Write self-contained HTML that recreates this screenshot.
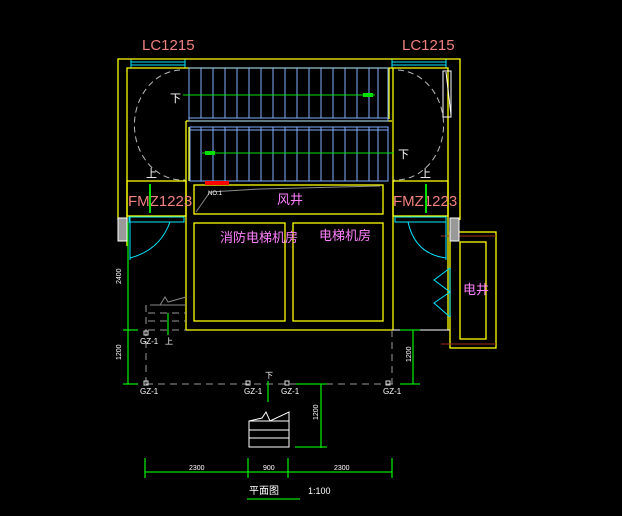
<!DOCTYPE html>
<html><head><meta charset="utf-8"><style>body{margin:0;background:#000}svg{display:block}</style></head><body>
<svg width="622" height="516" viewBox="0 0 622 516" xmlns="http://www.w3.org/2000/svg" font-family="Liberation Sans, Noto Sans CJK SC, sans-serif">
<rect width="622" height="516" fill="#000"/>
<text x="142" y="50" fill="#f08080" font-size="15">LC1215</text>
<text x="402" y="50" fill="#f08080" font-size="15">LC1215</text>
<g stroke="#00e5ff" stroke-width="1" fill="none">
<rect x="131" y="59" width="54" height="9"/><line x1="131" y1="62" x2="185" y2="62"/><line x1="131" y1="65" x2="185" y2="65"/>
<rect x="392" y="59" width="54" height="9"/><line x1="392" y1="62" x2="446" y2="62"/><line x1="392" y1="65" x2="446" y2="65"/>
</g>
<g stroke="#ffff00" stroke-width="1.3" fill="none">
<polyline points="118,220 118,59 460,59 460,220"/>
<polyline points="127,246 127,68 448,68 448,232"/>
<line x1="186" y1="121" x2="186" y2="330"/>
<line x1="186" y1="121" x2="392" y2="121"/>
<line x1="393" y1="68" x2="393" y2="330"/>
<line x1="389" y1="68" x2="389" y2="119"/>
<line x1="186" y1="330" x2="393" y2="330"/>
<line x1="189" y1="127" x2="189" y2="181"/>
<rect x="194" y="185" width="189" height="29"/>
<rect x="194" y="223" width="91" height="98"/>
<rect x="293" y="223" width="90" height="98"/>
<rect x="127" y="181" width="59" height="35"/>
<rect x="393" y="181" width="55" height="35"/>
<line x1="448" y1="232" x2="448" y2="330"/>
<rect x="450" y="232" width="46" height="116"/>
<rect x="460" y="242" width="26" height="97"/>
</g>
<line x1="441" y1="236" x2="496" y2="236" stroke="#a03010"/>
<line x1="441" y1="344" x2="496" y2="344" stroke="#a03010"/>
<line x1="393" y1="330" x2="450" y2="330" stroke="#fff"/>
<g stroke="#80b0ff" stroke-width="1" fill="none">
<rect x="189" y="68" width="199" height="53"/>
<line x1="189" y1="118" x2="388" y2="118"/>
<rect x="190" y="127" width="198" height="54"/>
<line x1="190" y1="130" x2="388" y2="130"/>
<path d="M201 68V118M213 68V118M225 68V118M237 68V118M249 68V118M261 68V118M273 68V118M285 68V118M297 68V118M309 68V118M321 68V118M333 68V118M345 68V118M357 68V118M369 68V118M378 68V118"/>
<path d="M201 127V181M213 127V181M225 127V181M237 127V181M249 127V181M261 127V181M273 127V181M285 127V181M297 127V181M309 127V181M321 127V181M333 127V181M345 127V181M357 127V181M369 127V181M378 127V181"/>
</g>
<g stroke="#00e000" stroke-width="1">
<line x1="183" y1="95" x2="375" y2="95"/><line x1="202" y1="153" x2="394" y2="153"/>
</g>
<rect x="363" y="93" width="10" height="4" fill="#00e000"/><rect x="205" y="151" width="10" height="4" fill="#00e000"/>
<g stroke="#bbb" stroke-dasharray="6,4" fill="none">
<path d="M180 70 A48 55 0 0 0 185 180"/>
<path d="M398 70 A48 55 0 0 1 393 180"/>
</g>
<g fill="#fff" font-size="11">
<text x="170" y="102">下</text><text x="398" y="158">下</text>
<text x="146" y="177">上</text><text x="420" y="177">上</text>
</g>
<rect x="443" y="71" width="8" height="46" fill="none" stroke="#fff"/>
<path d="M446 72 L451 115" stroke="#fff"/>
<rect x="205" y="181" width="24" height="4" fill="#f00"/>
<path d="M196 212 L210 192 L260 189 L380 186" stroke="#888" fill="none"/>
<text x="208" y="195" fill="#fff" font-size="6">NO.1</text>
<g fill="#ff80ff" font-size="13">
<text x="277" y="204">风井</text>
<text x="220" y="242">消防电梯机房</text>
<text x="319" y="240">电梯机房</text>
<text x="463" y="294">电井</text>
</g>
<g fill="#f08080" font-size="15">
<text x="128" y="206">FMZ1223</text><text x="393" y="206">FMZ1223</text>
</g>
<line x1="150" y1="184" x2="150" y2="213" stroke="#00e000" stroke-width="2"/>
<line x1="426" y1="184" x2="426" y2="213" stroke="#00e000" stroke-width="2"/>
<g stroke="#00e5ff" fill="none">
<rect x="129" y="217" width="55" height="5"/><rect x="395" y="217" width="51" height="5"/>
<line x1="130" y1="217" x2="130" y2="260"/><line x1="446" y1="217" x2="446" y2="260"/>
<path d="M130 258 Q160 250 170 222"/><path d="M446 258 Q415 254 408 222"/>
<line x1="450" y1="268" x2="450" y2="317"/>
<path d="M450 268 L434 280 L450 292 L434 303 L450 317"/>
</g>
<rect x="118" y="218" width="9" height="23" fill="#999" stroke="#fff"/>
<rect x="450" y="218" width="9" height="23" fill="#999" stroke="#fff"/>
<g stroke="#999" stroke-dasharray="7,5" fill="none">
<line x1="146" y1="305" x2="146" y2="384"/>
<line x1="392" y1="330" x2="392" y2="384"/>
<line x1="146" y1="384" x2="393" y2="384"/>
<path d="M148 313H186M148 321H186M148 330H186"/>
</g>
<path d="M150 305 L186 305 M160 305 L165 297 L168 302 L186 297" stroke="#888" fill="none"/>
<g fill="none" stroke="#ddd"><rect x="144" y="331" width="4" height="4"/><rect x="144" y="381" width="4" height="4"/><rect x="246" y="381" width="4" height="4"/><rect x="285" y="381" width="4" height="4"/><rect x="386" y="381" width="4" height="4"/></g>
<g fill="#fff" font-size="8">
<text x="140" y="344">GZ-1</text><text x="165" y="344">上</text>
<text x="140" y="394">GZ-1</text><text x="244" y="394">GZ-1</text><text x="281" y="394">GZ-1</text><text x="383" y="394">GZ-1</text>
<text x="265" y="378">下</text>
</g>
<g stroke="#00e000" stroke-width="1.3" fill="none">
<line x1="128" y1="222" x2="128" y2="384"/>
<line x1="123" y1="330" x2="138" y2="330"/><line x1="123" y1="384" x2="138" y2="384"/>
<line x1="413" y1="330" x2="413" y2="384"/>
<line x1="400" y1="330" x2="420" y2="330"/><line x1="400" y1="384" x2="420" y2="384"/>
<line x1="168" y1="313" x2="168" y2="335"/>
<line x1="268" y1="381" x2="268" y2="402"/>
<line x1="296" y1="384" x2="327" y2="384"/>
<line x1="321" y1="384" x2="321" y2="448"/><line x1="295" y1="447" x2="327" y2="447"/>
<line x1="145" y1="472" x2="392" y2="472"/>
<line x1="145" y1="458" x2="145" y2="478"/><line x1="248" y1="458" x2="248" y2="478"/><line x1="288" y1="458" x2="288" y2="478"/><line x1="392" y1="458" x2="392" y2="478"/>
<line x1="247" y1="499" x2="300" y2="499"/>
</g>
<g fill="#fff" font-size="7">
<text x="189" y="470">2300</text><text x="263" y="470">900</text><text x="334" y="470">2300</text>
<text transform="translate(121,284) rotate(-90)">2400</text>
<text transform="translate(121,360) rotate(-90)">1200</text>
<text transform="translate(411,362) rotate(-90)">1200</text>
<text transform="translate(318,420) rotate(-90)">1200</text>
</g>
<g stroke="#fff" fill="none">
<rect x="249" y="421" width="40" height="26"/>
<line x1="249" y1="430" x2="289" y2="430"/><line x1="249" y1="438" x2="289" y2="438"/>
<path d="M249 421 L262 418 L266 412 L270 421 L289 412 L289 421"/>
</g>
<text x="249" y="494" fill="#fff" font-size="10">平面图</text>
<text x="308" y="494" fill="#fff" font-size="9">1:100</text>
</svg>
</body></html>
